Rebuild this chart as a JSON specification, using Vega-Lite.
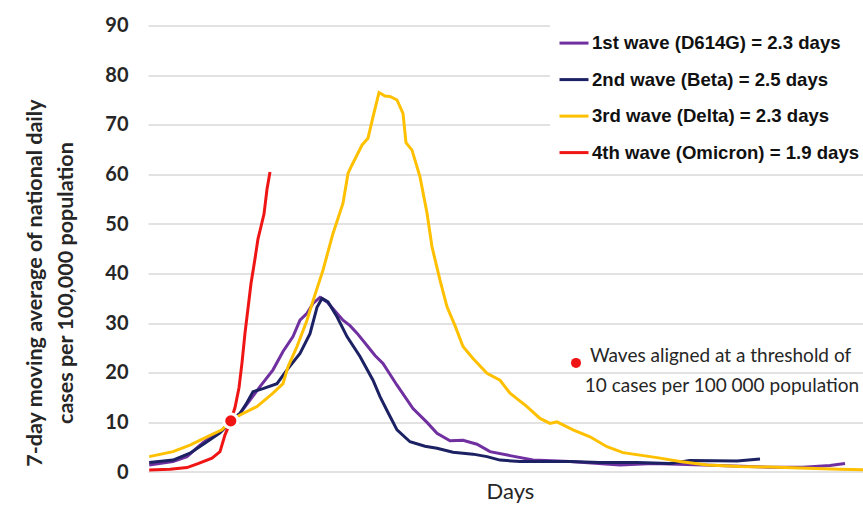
{
  "$schema": "https://vega.github.io/schema/vega-lite/v6.json",
  "usermeta": {"embedOptions": {"actions": false}},
  "autosize": {"type": "none"},
  "width": 715,
  "height": 446.4,
  "padding": {"left": 148, "top": 25.6, "right": 0, "bottom": 41},
  "background": "white",
  "config": {
    "view": {"stroke": null},
    "font": "Lato"
  },
  "datasets": {
    "curves": [
      {"wave": "1st wave (D614G) = 2.3 days", "day": 0.3, "cases": 1.4},
      {"wave": "1st wave (D614G) = 2.3 days", "day": 6.25, "cases": 2.1},
      {"wave": "1st wave (D614G) = 2.3 days", "day": 9.75, "cases": 3.1},
      {"wave": "1st wave (D614G) = 2.3 days", "day": 13, "cases": 5.4},
      {"wave": "1st wave (D614G) = 2.3 days", "day": 16.25, "cases": 7.5},
      {"wave": "1st wave (D614G) = 2.3 days", "day": 18.5, "cases": 8.3},
      {"wave": "1st wave (D614G) = 2.3 days", "day": 20.7, "cases": 10.3},
      {"wave": "1st wave (D614G) = 2.3 days", "day": 23, "cases": 11.8},
      {"wave": "1st wave (D614G) = 2.3 days", "day": 25.5, "cases": 14.5},
      {"wave": "1st wave (D614G) = 2.3 days", "day": 28, "cases": 17.2},
      {"wave": "1st wave (D614G) = 2.3 days", "day": 31.25, "cases": 20.6},
      {"wave": "1st wave (D614G) = 2.3 days", "day": 33.75, "cases": 24.3},
      {"wave": "1st wave (D614G) = 2.3 days", "day": 36.25, "cases": 27.3},
      {"wave": "1st wave (D614G) = 2.3 days", "day": 38, "cases": 30.6},
      {"wave": "1st wave (D614G) = 2.3 days", "day": 39.75, "cases": 32},
      {"wave": "1st wave (D614G) = 2.3 days", "day": 41.25, "cases": 34},
      {"wave": "1st wave (D614G) = 2.3 days", "day": 43, "cases": 35.2},
      {"wave": "1st wave (D614G) = 2.3 days", "day": 44.75, "cases": 34.3},
      {"wave": "1st wave (D614G) = 2.3 days", "day": 46.25, "cases": 32.9},
      {"wave": "1st wave (D614G) = 2.3 days", "day": 48.75, "cases": 30.6},
      {"wave": "1st wave (D614G) = 2.3 days", "day": 50.5, "cases": 29.5},
      {"wave": "1st wave (D614G) = 2.3 days", "day": 52.25, "cases": 28},
      {"wave": "1st wave (D614G) = 2.3 days", "day": 54.75, "cases": 25.5},
      {"wave": "1st wave (D614G) = 2.3 days", "day": 56.75, "cases": 23.5},
      {"wave": "1st wave (D614G) = 2.3 days", "day": 58.75, "cases": 21.9},
      {"wave": "1st wave (D614G) = 2.3 days", "day": 62.25, "cases": 17.5},
      {"wave": "1st wave (D614G) = 2.3 days", "day": 66.25, "cases": 12.8},
      {"wave": "1st wave (D614G) = 2.3 days", "day": 69.75, "cases": 10},
      {"wave": "1st wave (D614G) = 2.3 days", "day": 72.25, "cases": 7.8},
      {"wave": "1st wave (D614G) = 2.3 days", "day": 75.5, "cases": 6.3},
      {"wave": "1st wave (D614G) = 2.3 days", "day": 78.75, "cases": 6.4},
      {"wave": "1st wave (D614G) = 2.3 days", "day": 82.25, "cases": 5.6},
      {"wave": "1st wave (D614G) = 2.3 days", "day": 85.5, "cases": 4.1},
      {"wave": "1st wave (D614G) = 2.3 days", "day": 90.5, "cases": 3.3},
      {"wave": "1st wave (D614G) = 2.3 days", "day": 96.25, "cases": 2.4},
      {"wave": "1st wave (D614G) = 2.3 days", "day": 105.5, "cases": 2.1},
      {"wave": "1st wave (D614G) = 2.3 days", "day": 118, "cases": 1.4},
      {"wave": "1st wave (D614G) = 2.3 days", "day": 126.25, "cases": 1.7},
      {"wave": "1st wave (D614G) = 2.3 days", "day": 138.75, "cases": 1.4},
      {"wave": "1st wave (D614G) = 2.3 days", "day": 155.5, "cases": 0.95},
      {"wave": "1st wave (D614G) = 2.3 days", "day": 163.75, "cases": 0.95},
      {"wave": "1st wave (D614G) = 2.3 days", "day": 170.5, "cases": 1.3},
      {"wave": "1st wave (D614G) = 2.3 days", "day": 174.25, "cases": 1.7},

      {"wave": "2nd wave (Beta) = 2.5 days", "day": 0.3, "cases": 1.9},
      {"wave": "2nd wave (Beta) = 2.5 days", "day": 6.25, "cases": 2.4},
      {"wave": "2nd wave (Beta) = 2.5 days", "day": 10.5, "cases": 3.8},
      {"wave": "2nd wave (Beta) = 2.5 days", "day": 14.75, "cases": 6.1},
      {"wave": "2nd wave (Beta) = 2.5 days", "day": 18, "cases": 7.9},
      {"wave": "2nd wave (Beta) = 2.5 days", "day": 20.7, "cases": 10.3},
      {"wave": "2nd wave (Beta) = 2.5 days", "day": 23, "cases": 11.8},
      {"wave": "2nd wave (Beta) = 2.5 days", "day": 24.75, "cases": 14},
      {"wave": "2nd wave (Beta) = 2.5 days", "day": 26.25, "cases": 16.2},
      {"wave": "2nd wave (Beta) = 2.5 days", "day": 28.75, "cases": 16.8},
      {"wave": "2nd wave (Beta) = 2.5 days", "day": 32.25, "cases": 17.8},
      {"wave": "2nd wave (Beta) = 2.5 days", "day": 34.75, "cases": 20.6},
      {"wave": "2nd wave (Beta) = 2.5 days", "day": 38, "cases": 23.9},
      {"wave": "2nd wave (Beta) = 2.5 days", "day": 40.5, "cases": 27.9},
      {"wave": "2nd wave (Beta) = 2.5 days", "day": 42.25, "cases": 33.2},
      {"wave": "2nd wave (Beta) = 2.5 days", "day": 43.5, "cases": 35},
      {"wave": "2nd wave (Beta) = 2.5 days", "day": 45, "cases": 34.3},
      {"wave": "2nd wave (Beta) = 2.5 days", "day": 47.25, "cases": 31.3},
      {"wave": "2nd wave (Beta) = 2.5 days", "day": 49.75, "cases": 27.3},
      {"wave": "2nd wave (Beta) = 2.5 days", "day": 53, "cases": 23.3},
      {"wave": "2nd wave (Beta) = 2.5 days", "day": 56.25, "cases": 18.5},
      {"wave": "2nd wave (Beta) = 2.5 days", "day": 58, "cases": 15.2},
      {"wave": "2nd wave (Beta) = 2.5 days", "day": 60, "cases": 12},
      {"wave": "2nd wave (Beta) = 2.5 days", "day": 62.25, "cases": 8.5},
      {"wave": "2nd wave (Beta) = 2.5 days", "day": 65.5, "cases": 6.1},
      {"wave": "2nd wave (Beta) = 2.5 days", "day": 69.25, "cases": 5.2},
      {"wave": "2nd wave (Beta) = 2.5 days", "day": 72.25, "cases": 4.8},
      {"wave": "2nd wave (Beta) = 2.5 days", "day": 76.25, "cases": 4},
      {"wave": "2nd wave (Beta) = 2.5 days", "day": 81.25, "cases": 3.6},
      {"wave": "2nd wave (Beta) = 2.5 days", "day": 84.75, "cases": 3.1},
      {"wave": "2nd wave (Beta) = 2.5 days", "day": 88, "cases": 2.4},
      {"wave": "2nd wave (Beta) = 2.5 days", "day": 93, "cases": 2.1},
      {"wave": "2nd wave (Beta) = 2.5 days", "day": 105.5, "cases": 2.1},
      {"wave": "2nd wave (Beta) = 2.5 days", "day": 113, "cases": 1.9},
      {"wave": "2nd wave (Beta) = 2.5 days", "day": 122.25, "cases": 1.9},
      {"wave": "2nd wave (Beta) = 2.5 days", "day": 130.5, "cases": 1.7},
      {"wave": "2nd wave (Beta) = 2.5 days", "day": 135.5, "cases": 2.3},
      {"wave": "2nd wave (Beta) = 2.5 days", "day": 147.25, "cases": 2.2},
      {"wave": "2nd wave (Beta) = 2.5 days", "day": 153, "cases": 2.6},

      {"wave": "3rd wave (Delta) = 2.3 days", "day": 0.3, "cases": 3.1},
      {"wave": "3rd wave (Delta) = 2.3 days", "day": 6.25, "cases": 4.1},
      {"wave": "3rd wave (Delta) = 2.3 days", "day": 10.5, "cases": 5.4},
      {"wave": "3rd wave (Delta) = 2.3 days", "day": 14.75, "cases": 7.1},
      {"wave": "3rd wave (Delta) = 2.3 days", "day": 18.5, "cases": 8.5},
      {"wave": "3rd wave (Delta) = 2.3 days", "day": 20.7, "cases": 10.3},
      {"wave": "3rd wave (Delta) = 2.3 days", "day": 23, "cases": 11.5},
      {"wave": "3rd wave (Delta) = 2.3 days", "day": 27.25, "cases": 13.2},
      {"wave": "3rd wave (Delta) = 2.3 days", "day": 31.25, "cases": 15.9},
      {"wave": "3rd wave (Delta) = 2.3 days", "day": 33.75, "cases": 17.8},
      {"wave": "3rd wave (Delta) = 2.3 days", "day": 35, "cases": 21.2},
      {"wave": "3rd wave (Delta) = 2.3 days", "day": 37.25, "cases": 25.3},
      {"wave": "3rd wave (Delta) = 2.3 days", "day": 39.75, "cases": 30.6},
      {"wave": "3rd wave (Delta) = 2.3 days", "day": 41.25, "cases": 34.5},
      {"wave": "3rd wave (Delta) = 2.3 days", "day": 43.75, "cases": 40.7},
      {"wave": "3rd wave (Delta) = 2.3 days", "day": 46.25, "cases": 48.1},
      {"wave": "3rd wave (Delta) = 2.3 days", "day": 48.75, "cases": 54.2},
      {"wave": "3rd wave (Delta) = 2.3 days", "day": 50, "cases": 60.2},
      {"wave": "3rd wave (Delta) = 2.3 days", "day": 51, "cases": 61.9},
      {"wave": "3rd wave (Delta) = 2.3 days", "day": 53.5, "cases": 65.9},
      {"wave": "3rd wave (Delta) = 2.3 days", "day": 55, "cases": 67.3},
      {"wave": "3rd wave (Delta) = 2.3 days", "day": 56.25, "cases": 71.6},
      {"wave": "3rd wave (Delta) = 2.3 days", "day": 57.75, "cases": 76.5},
      {"wave": "3rd wave (Delta) = 2.3 days", "day": 59.25, "cases": 75.8},
      {"wave": "3rd wave (Delta) = 2.3 days", "day": 60.5, "cases": 75.7},
      {"wave": "3rd wave (Delta) = 2.3 days", "day": 62.25, "cases": 75},
      {"wave": "3rd wave (Delta) = 2.3 days", "day": 63.75, "cases": 72.3},
      {"wave": "3rd wave (Delta) = 2.3 days", "day": 64.5, "cases": 66.4},
      {"wave": "3rd wave (Delta) = 2.3 days", "day": 66, "cases": 64.9},
      {"wave": "3rd wave (Delta) = 2.3 days", "day": 68, "cases": 59.5},
      {"wave": "3rd wave (Delta) = 2.3 days", "day": 69.75, "cases": 52.2},
      {"wave": "3rd wave (Delta) = 2.3 days", "day": 71, "cases": 45.4},
      {"wave": "3rd wave (Delta) = 2.3 days", "day": 73, "cases": 38.7},
      {"wave": "3rd wave (Delta) = 2.3 days", "day": 74.75, "cases": 33.3},
      {"wave": "3rd wave (Delta) = 2.3 days", "day": 76.75, "cases": 29.5},
      {"wave": "3rd wave (Delta) = 2.3 days", "day": 78.75, "cases": 25.3},
      {"wave": "3rd wave (Delta) = 2.3 days", "day": 81.25, "cases": 22.9},
      {"wave": "3rd wave (Delta) = 2.3 days", "day": 84.75, "cases": 19.9},
      {"wave": "3rd wave (Delta) = 2.3 days", "day": 88, "cases": 18.5},
      {"wave": "3rd wave (Delta) = 2.3 days", "day": 90.5, "cases": 15.9},
      {"wave": "3rd wave (Delta) = 2.3 days", "day": 94.75, "cases": 13.2},
      {"wave": "3rd wave (Delta) = 2.3 days", "day": 98, "cases": 10.8},
      {"wave": "3rd wave (Delta) = 2.3 days", "day": 100.5, "cases": 9.8},
      {"wave": "3rd wave (Delta) = 2.3 days", "day": 102.25, "cases": 10.1},
      {"wave": "3rd wave (Delta) = 2.3 days", "day": 106.25, "cases": 8.5},
      {"wave": "3rd wave (Delta) = 2.3 days", "day": 110.5, "cases": 7.1},
      {"wave": "3rd wave (Delta) = 2.3 days", "day": 114.75, "cases": 5.1},
      {"wave": "3rd wave (Delta) = 2.3 days", "day": 118.75, "cases": 3.9},
      {"wave": "3rd wave (Delta) = 2.3 days", "day": 127.25, "cases": 2.9},
      {"wave": "3rd wave (Delta) = 2.3 days", "day": 133, "cases": 2.1},
      {"wave": "3rd wave (Delta) = 2.3 days", "day": 139.75, "cases": 1.4},
      {"wave": "3rd wave (Delta) = 2.3 days", "day": 148, "cases": 1.1},
      {"wave": "3rd wave (Delta) = 2.3 days", "day": 155.5, "cases": 1.0},
      {"wave": "3rd wave (Delta) = 2.3 days", "day": 164.75, "cases": 0.75},
      {"wave": "3rd wave (Delta) = 2.3 days", "day": 173, "cases": 0.55},
      {"wave": "3rd wave (Delta) = 2.3 days", "day": 180.5, "cases": 0.4},

      {"wave": "4th wave (Omicron) = 1.9 days", "day": 0.3, "cases": 0.4},
      {"wave": "4th wave (Omicron) = 1.9 days", "day": 5.5, "cases": 0.55},
      {"wave": "4th wave (Omicron) = 1.9 days", "day": 9.75, "cases": 0.9},
      {"wave": "4th wave (Omicron) = 1.9 days", "day": 12.5, "cases": 1.7},
      {"wave": "4th wave (Omicron) = 1.9 days", "day": 16, "cases": 2.8},
      {"wave": "4th wave (Omicron) = 1.9 days", "day": 18, "cases": 4.1},
      {"wave": "4th wave (Omicron) = 1.9 days", "day": 19.25, "cases": 7.5},
      {"wave": "4th wave (Omicron) = 1.9 days", "day": 20.7, "cases": 10.3},
      {"wave": "4th wave (Omicron) = 1.9 days", "day": 21.75, "cases": 13},
      {"wave": "4th wave (Omicron) = 1.9 days", "day": 22.75, "cases": 17},
      {"wave": "4th wave (Omicron) = 1.9 days", "day": 23.5, "cases": 22},
      {"wave": "4th wave (Omicron) = 1.9 days", "day": 24.25, "cases": 28},
      {"wave": "4th wave (Omicron) = 1.9 days", "day": 25, "cases": 33},
      {"wave": "4th wave (Omicron) = 1.9 days", "day": 25.75, "cases": 38},
      {"wave": "4th wave (Omicron) = 1.9 days", "day": 26.75, "cases": 43},
      {"wave": "4th wave (Omicron) = 1.9 days", "day": 27.5, "cases": 47},
      {"wave": "4th wave (Omicron) = 1.9 days", "day": 28.25, "cases": 49.5},
      {"wave": "4th wave (Omicron) = 1.9 days", "day": 29, "cases": 52},
      {"wave": "4th wave (Omicron) = 1.9 days", "day": 29.75, "cases": 57},
      {"wave": "4th wave (Omicron) = 1.9 days", "day": 30.5, "cases": 60.5}
    ],
    "threshold": [{"day": 20.7, "cases": 10.3}],
    "noteDot": [{"day": 107, "cases": 22}],
    "noteText": [
      {"day": 110.5, "cases": 23.3, "text": "Waves aligned at a threshold of"},
      {"day": 109.2, "cases": 17.4, "text": "10 cases per 100 000 population"}
    ]
  },
  "encoding": {
    "x": {
      "field": "day", "type": "quantitative",
      "scale": {"domain": [0, 178.75], "nice": false, "zero": false},
      "axis": {
        "title": "Days", "labels": false, "ticks": false, "domain": false, "grid": false,
        "titleFont": "Lato", "titleFontSize": 22, "titleFontWeight": "normal", "titleColor": "#262626",
        "titleX": 362, "titleY": 26, "titleBaseline": "alphabetic", "titleAlign": "center"
      }
    },
    "y": {
      "field": "cases", "type": "quantitative",
      "scale": {"domain": [0, 90], "nice": false},
      "axis": {
        "values": [0, 10, 20, 30, 40, 50, 60, 70, 80, 90],
        "title": ["7-day moving  average of national daily", "cases per 100,000 population"],
        "titleFont": "Lato", "titleFontSize": 21.5, "titleFontWeight": "bold", "titleColor": "#262626",
        "titleLineHeight": 31, "titleAngle": 270, "titleAlign": "center", "titleBaseline": "alphabetic",
        "titleX": -107, "titleY": 257,
        "labelFont": "Lato", "labelFontSize": 20, "labelFontWeight": "bold", "labelColor": "#262626",
        "labelPadding": 20, "ticks": false, "domain": false,
        "grid": true, "gridColor": "#D9D9D9", "gridWidth": 1.5
      }
    }
  },
  "layer": [
    {
      "data": {"name": "curves"},
      "mark": {"type": "line", "strokeWidth": 3, "clip": true},
      "encoding": {
        "color": {
          "field": "wave", "type": "nominal",
          "scale": {
            "domain": ["1st wave (D614G) = 2.3 days", "2nd wave (Beta) = 2.5 days", "3rd wave (Delta) = 2.3 days", "4th wave (Omicron) = 1.9 days"],
            "range": ["#7030A0", "#1C2163", "#FFC000", "#F01515"]
          },
          "legend": {
            "title": null, "orient": "none", "legendX": 402, "legendY": -6.5,
            "fillColor": "white", "padding": 8,
            "symbolType": "stroke", "symbolSize": 841, "symbolStrokeWidth": 3,
            "labelFont": "Liberation Sans", "labelFontSize": 18.6, "labelFontWeight": "bold", "labelColor": "#111111",
            "labelOffset": 2, "rowPadding": 10.5, "labelLimit": 400
          }
        }
      }
    },
    {
      "data": {"name": "threshold"},
      "mark": {"type": "point", "filled": true, "shape": "circle", "size": 200, "color": "#F01515", "stroke": "white", "strokeWidth": 3, "opacity": 1}
    },
    {
      "data": {"name": "noteDot"},
      "mark": {"type": "point", "filled": true, "shape": "circle", "size": 100, "color": "#F01515", "opacity": 1}
    },
    {
      "data": {"name": "noteText"},
      "mark": {"type": "text", "align": "left", "baseline": "middle", "font": "Lato", "fontSize": 19, "color": "#262626"},
      "encoding": {"text": {"field": "text", "type": "nominal"}}
    }
  ]
}
